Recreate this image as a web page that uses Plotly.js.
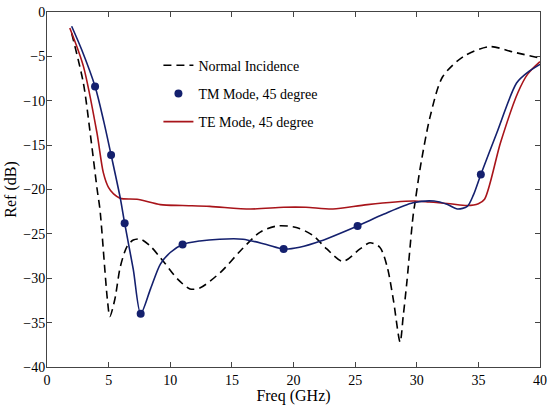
<!DOCTYPE html>
<html>
<head>
<meta charset="utf-8">
<script src="https://cdn.plot.ly/plotly-3.0.1.min.js"></script>
<style>
  html, body { margin: 0; padding: 0; background: #fff; }
  #chart { width: 547px; height: 405px; }
</style>
</head>
<body>
<div id="chart"></div>
<script>
// Reflection (dB) versus frequency (GHz)
const normalFreq = [2.0, 2.95, 3.5, 4.07, 4.3, 4.9, 5.1, 5.5, 5.95, 6.5, 7.0, 7.6, 8.4, 9.5, 10.6, 11.6, 12.4, 14.1, 15.7, 17.3, 18.7, 20.3, 21.6, 22.7, 24.0, 25.4, 26.2, 27.0, 27.6, 28.1, 28.65, 28.9, 29.2, 29.7, 29.9, 30.3, 31.1, 32.1, 33.8, 35.9, 37.8, 40.0];
const normalRef = [-2.4, -8.0, -13.6, -20.0, -22.3, -32.4, -34.3, -32.4, -28.7, -26.4, -25.7, -25.6, -26.4, -28.2, -30.1, -31.2, -31.1, -29.3, -26.9, -24.8, -24.1, -24.3, -25.2, -26.7, -28.1, -26.7, -26.0, -26.5, -28.7, -32.4, -37.2, -34.3, -30.4, -23.0, -21.1, -17.4, -11.7, -7.3, -5.0, -3.9, -4.5, -5.2];

const teFreq = [1.85, 2.95, 4.05, 4.57, 5.0, 5.4, 5.95, 7.3, 9.2, 11.0, 13.2, 16.5, 19.2, 21.0, 23.2, 26.0, 29.7, 31.0, 32.7, 34.1, 35.0, 35.5, 36.8, 38.2, 39.0, 40.0];
const teRef = [-1.8, -6.1, -13.6, -18.1, -19.8, -20.5, -21.0, -21.1, -21.7, -21.8, -21.9, -22.2, -22.0, -22.0, -22.2, -21.7, -21.3, -21.4, -21.6, -21.8, -21.6, -21.1, -14.7, -9.1, -7.0, -5.6];

const tmFreq = [2.0, 2.8, 3.9, 4.6, 5.2, 5.95, 6.3, 7.0, 7.6, 8.4, 9.2, 10.0, 11.0, 12.4, 14.0, 15.9, 17.8, 19.2, 20.5, 22.2, 25.2, 27.3, 29.7, 31.4, 32.5, 33.3, 34.1, 34.6, 35.2, 36.5, 38.1, 39.0, 40.0];
const tmRef = [-1.6, -4.2, -8.4, -12.3, -16.1, -21.0, -23.8, -29.0, -34.0, -31.2, -28.4, -27.1, -26.2, -25.8, -25.6, -25.6, -26.2, -26.7, -26.5, -25.8, -24.1, -22.8, -21.5, -21.3, -21.7, -22.2, -21.9, -20.6, -18.3, -13.6, -8.0, -6.8, -5.9];

// sampled TM points shown as markers
const tmMarkFreq = [3.9, 5.2, 6.3, 7.6, 11.0, 19.2, 25.2, 35.2];
const tmMarkRef = [-8.4, -16.1, -23.8, -34.0, -26.2, -26.7, -24.1, -18.3];

const xTicks = [0, 5, 10, 15, 20, 25, 30, 35, 40];
const yTicks = [0, -5, -10, -15, -20, -25, -30, -35, -40];

const navy = '#14206e';
const darkRed = '#a8141a';
const serif = 'Liberation Serif, Times New Roman, serif';

const traces = [
  {
    x: normalFreq, y: normalRef, type: 'scatter', mode: 'lines',
    name: 'Normal Incidence', legendrank: 1, legendgroup: 'n',
    line: { color: '#000', width: 1.6, dash: '8px,5px', shape: 'spline', smoothing: 0.8 }
  },
  {
    x: teFreq, y: teRef, type: 'scatter', mode: 'lines',
    name: 'TE Mode, 45 degree', legendrank: 3, legendgroup: 'te',
    line: { color: darkRed, width: 1.6, shape: 'spline', smoothing: 0.8 }
  },
  {
    x: tmFreq, y: tmRef, type: 'scatter', mode: 'lines',
    showlegend: false, legendgroup: 'tm',
    line: { color: navy, width: 1.6, shape: 'spline', smoothing: 0.8 }
  },
  {
    x: tmMarkFreq, y: tmMarkRef, type: 'scatter', mode: 'markers',
    name: 'TM Mode, 45 degree', legendrank: 2, legendgroup: 'tm',
    marker: { color: navy, size: 8 }
  }
];

const axisCommon = {
  showline: true, linecolor: '#444', linewidth: 1, mirror: 'ticks',
  ticks: 'inside', ticklen: 5, tickcolor: '#444',
  showgrid: false, zeroline: false,
  tickfont: { family: serif, size: 14, color: '#000' }
};

const layout = {
  width: 547, height: 405,
  margin: { l: 47, r: 7, t: 12, b: 38 },
  paper_bgcolor: '#fff', plot_bgcolor: '#fff',
  font: { family: serif, size: 14, color: '#000' },
  xaxis: Object.assign({}, axisCommon, {
    range: [0, 40], tickvals: xTicks, ticklabelstandoff: 0,
    title: { text: 'Freq (GHz)', font: { family: serif, size: 16 }, standoff: 2 }
  }),
  yaxis: Object.assign({}, axisCommon, {
    range: [-40, 0], tickvals: yTicks, ticklabelstandoff: -2,
    title: { text: 'Ref (dB)', font: { family: serif, size: 16 }, standoff: 2 }
  }),
  legend: {
    x: 0.226, y: 0.894, xanchor: 'left', yanchor: 'top',
    bgcolor: 'rgba(0,0,0,0)', borderwidth: 0,
    font: { family: serif, size: 14, color: '#000' },
    traceorder: 'grouped', tracegroupgap: 7, itemwidth: 30
  },
  showlegend: true
};

Plotly.newPlot('chart', traces, layout, { displayModeBar: false, staticPlot: true });
</script>
</body>
</html>
